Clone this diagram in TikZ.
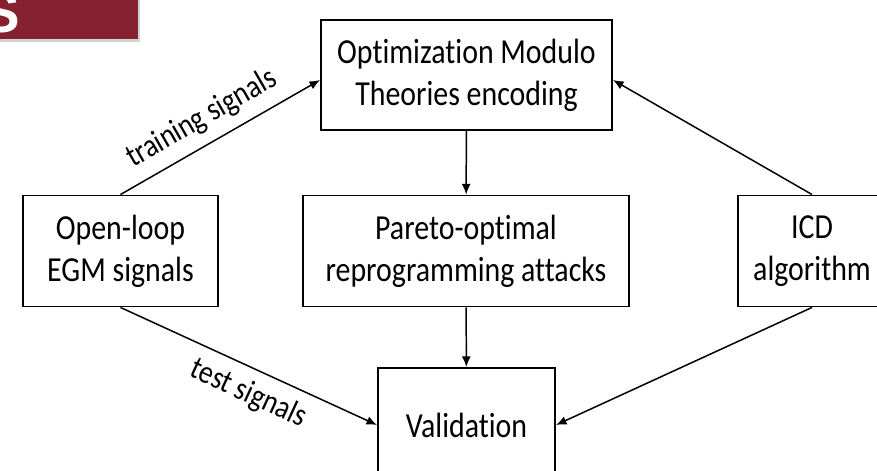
\documentclass[tikz,border=0pt]{standalone}
\usepackage{fontspec}
\setmainfont{Carlito}[FakeStretch=0.85,Ligatures=NoCommon]
\newfontfamily\bannerfont{Liberation Sans}
\usetikzlibrary{arrows.meta,shadows}
\definecolor{darkred}{RGB}{134, 34, 47}
\tikzstyle{processstep}=[draw,line width=1.1pt,align=center,inner sep=0pt,font=\fontsize{20}{24}\selectfont,minimum height=2.22cm]
\tikzstyle{orientedarc}=[->,>={Latex[length=6pt,width=5pt]},line width=0.85pt]
\tikzstyle{arclabel}=[sloped,inner sep=6pt,font=\fontsize{18.5}{22}\selectfont]
\tikzstyle{banner}=[fill=darkred,minimum width=2.96cm,minimum height=0.96cm,inner sep=0pt,drop shadow={shadow xshift=0.04cm,shadow yshift=-0.06cm,opacity=0.35}]

\begin{document}
\begin{tikzpicture}
\useasboundingbox (0cm,0cm) rectangle (17.54cm,9.42cm);
\clip (0cm,0cm) rectangle (17.54cm,9.42cm);

\node[banner] (title) at (1.28cm,9.12cm) {};
\node[anchor=base east,text=white,inner sep=0pt,font=\bannerfont\bfseries\fontsize{32}{32}\selectfont] (titletext) at (0.4cm,8.76cm) {S};

\node[processstep,minimum width=5.82cm,minimum height=2.2cm] (OMT) at (9.33cm,7.92cm) {Optimization Modulo\\Theories encoding};
\node[processstep,minimum width=6.52cm] (PARETO) at (9.32cm,4.4cm) {Pareto-optimal\\reprogramming attacks};
\node[processstep,minimum width=3.9cm] (EGM) at (2.41cm,4.4cm) {Open-loop\\EGM signals};
\node[processstep,minimum width=2.96cm] (ICD) at (16.24cm,4.4cm) {ICD\\algorithm};
\node[processstep,minimum width=3.54cm,minimum height=2.28cm] (VAL) at (9.33cm,0.92cm) {Validation};

\draw[orientedarc] (EGM.north) -- ([yshift=-0.1cm]OMT.west) node[arclabel,above,pos=0.47]{training signals};
\draw[orientedarc] (ICD.north) -- ([yshift=-0.1cm]OMT.east);
\draw[orientedarc] (OMT) -- (PARETO);
\draw[orientedarc] (PARETO) -- (VAL);
\draw[orientedarc] (EGM.south) -- (VAL.west) node[arclabel,below,pos=0.54]{test signals};
\draw[orientedarc] (ICD.south) -- (VAL.east);

\end{tikzpicture}
\end{document}
